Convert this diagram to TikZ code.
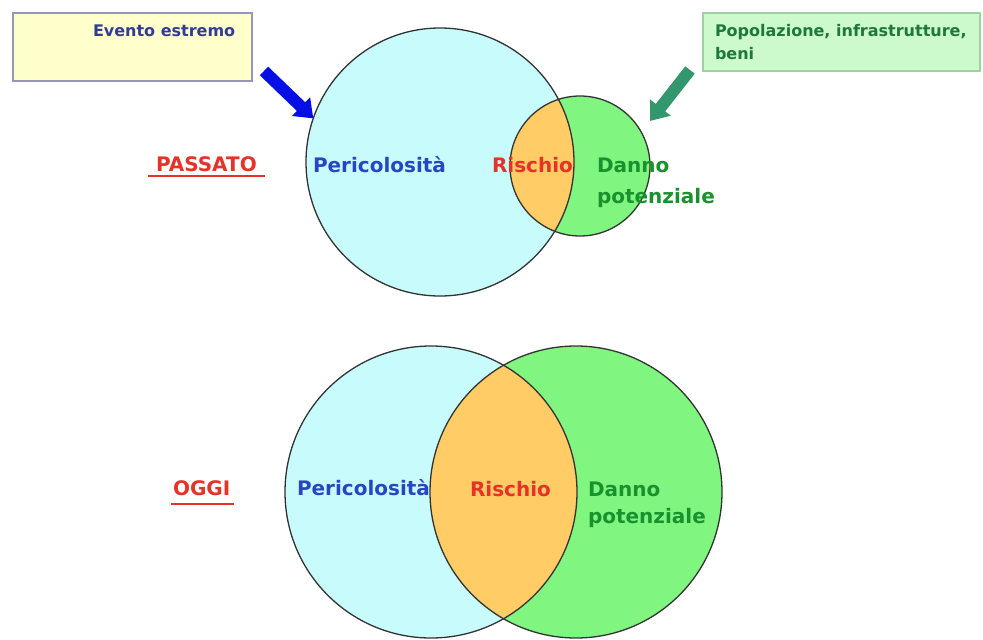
\documentclass[tikz,border=0pt]{standalone}
\usepackage{fontspec}
\setmainfont{DejaVu Sans}
\usetikzlibrary{arrows.meta}
\definecolor{cyanfill}{RGB}{200,252,252}
\definecolor{greenfill}{RGB}{128,245,128}
\definecolor{orangefill}{RGB}{255,204,102}
\definecolor{txtblue}{RGB}{40,70,195}
\definecolor{txtred}{RGB}{230,50,40}
\definecolor{txtgreen}{RGB}{25,145,45}
\definecolor{evblue}{RGB}{50,60,150}
\definecolor{popgreen}{RGB}{30,120,60}
\definecolor{yboxfill}{RGB}{255,255,204}
\definecolor{yboxline}{RGB}{150,150,185}
\definecolor{gboxfill}{RGB}{204,250,204}
\definecolor{gboxline}{RGB}{160,210,160}
\definecolor{arrblue}{RGB}{5,15,230}
\definecolor{arrgreen}{RGB}{50,150,110}
\begin{document}
\begin{tikzpicture}[x=1pt,y=-1pt,
  lbl/.style={inner sep=0pt, outer sep=0pt, anchor=base west, font=\fontsize{20}{24}\selectfont\bfseries},
  small/.style={inner sep=0pt, outer sep=0pt, anchor=base west, font=\fontsize{16}{19}\selectfont\bfseries},
  disc/.style={circle, inner sep=0pt, outer sep=0pt},
  ol/.style={draw=black!80, line width=1.3pt},
  uline/.style={line width=2.2pt, draw=txtred},
  bigarrow/.style={line width=12pt, -{Triangle[width=25pt,length=17pt]}}
]
\useasboundingbox (0,0) rectangle (983,640);
\fill[white] (0,0) rectangle (983,640);

% ---- top (PASSATO) ----
\node[disc, fill=cyanfill, minimum size=268pt] (h1) at (440,162) {};
\node[disc, fill=greenfill, minimum size=140pt] (d1) at (580,166) {};
\begin{scope}
  \clip (h1.center) circle (134pt);
  \fill[orangefill] (d1.center) circle (70pt);
\end{scope}
\draw[ol] (h1.center) circle (134pt);
\draw[ol] (d1.center) circle (70pt);

% ---- bottom (OGGI) ----
\node[disc, fill=cyanfill, minimum size=292pt] (h2) at (431,492) {};
\node[disc, fill=greenfill, minimum size=292pt] (d2) at (576,492) {};
\begin{scope}
  \clip (h2.center) circle (146pt);
  \fill[orangefill] (d2.center) circle (146pt);
\end{scope}
\draw[ol] (h2.center) circle (146pt);
\draw[ol] (d2.center) circle (146pt);

% ---- boxes ----
\node[draw=yboxline, fill=yboxfill, line width=1.6pt, minimum width=239pt, minimum height=68pt, inner sep=0pt] (evbox) at (132.5,47) {};
\node[small, text=evblue] (ev) at (93,36) {Evento estremo};
\node[draw=gboxline, fill=gboxfill, line width=1.4pt, minimum width=277pt, minimum height=58pt, inner sep=0pt] (popbox) at (841.5,42) {};
\node[small, text=popgreen] (pop1) at (715,36) {Popolazione, infrastrutture,};
\node[small, text=popgreen] (pop2) at (715,59) {beni};

% ---- arrows ----
\coordinate (bt) at (264,71);
\coordinate (gt) at (690,70);
\coordinate (gh) at (650,121);
\draw[bigarrow, draw=arrblue, fill=arrblue] (bt) -- (h1.161);
\draw[bigarrow, draw=arrgreen, fill=arrgreen] (gt) -- (gh);

% ---- labels top ----
\node[lbl, text=txtred] (pas) at (156,171) {PASSATO};
\draw[uline] (148,176) -- (265,176);
\node[lbl, text=txtblue] (per1) at (313,172) {Pericolosità};
\node[lbl, text=txtred] (ris1) at (492,172) {Rischio};
\node[lbl, text=txtgreen] (dan1) at (597,172) {Danno};
\node[lbl, text=txtgreen] (pot1) at (597,203) {potenziale};

% ---- labels bottom ----
\node[lbl, text=txtred] (oggi) at (173,495) {OGGI};
\draw[uline] (171,504) -- (234,504);
\node[lbl, text=txtblue] (per2) at (297,495) {Pericolosità};
\node[lbl, text=txtred] (ris2) at (470,496) {Rischio};
\node[lbl, text=txtgreen] (dan2) at (588,496) {Danno};
\node[lbl, text=txtgreen] (pot2) at (588,523) {potenziale};
\end{tikzpicture}
\end{document}
